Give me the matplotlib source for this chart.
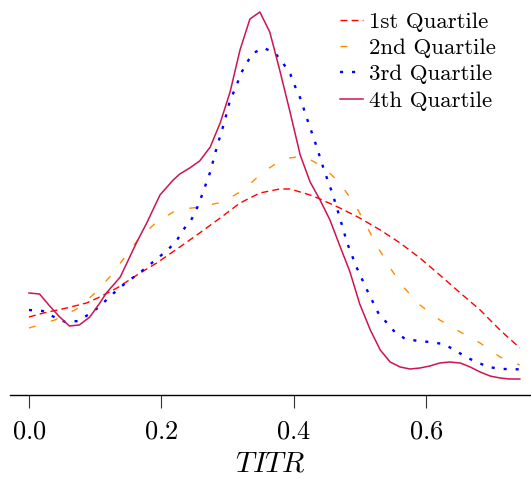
import matplotlib
matplotlib.use("Agg")
import matplotlib.pyplot as plt

plt.rcParams["font.family"] = "cmr10"
plt.rcParams["mathtext.fontset"] = "cm"
plt.rcParams["axes.formatter.use_mathtext"] = True

# density curves of TITR per quartile
q1_x = [0.000, 0.022, 0.057, 0.087, 0.107, 0.133, 0.168, 0.193, 0.228, 0.258,
        0.289, 0.319, 0.349, 0.379, 0.395, 0.425, 0.440, 0.470, 0.500, 0.531,
        0.561, 0.591, 0.621, 0.652, 0.682, 0.712, 0.742]
q1_y = [0.78, 0.82, 0.87, 0.92, 0.98, 1.07, 1.22, 1.32, 1.48, 1.62,
        1.77, 1.92, 2.02, 2.06, 2.06, 2.00, 1.96, 1.87, 1.77, 1.65,
        1.52, 1.37, 1.20, 1.02, 0.85, 0.65, 0.47]

q2_x = [0.000, 0.039, 0.072, 0.100, 0.122, 0.145, 0.168, 0.193, 0.223, 0.258,
        0.293, 0.324, 0.354, 0.384, 0.415, 0.445, 0.470, 0.495, 0.511, 0.528,
        0.546, 0.566, 0.591, 0.621, 0.652, 0.682, 0.712, 0.742]
q2_y = [0.67, 0.75, 0.86, 1.02, 1.18, 1.38, 1.58, 1.73, 1.85, 1.88,
        1.93, 2.05, 2.23, 2.36, 2.39, 2.28, 2.12, 1.88, 1.68, 1.47,
        1.27, 1.08, 0.90, 0.75, 0.63, 0.52, 0.38, 0.30]

q3_x = [0.000, 0.021, 0.038, 0.055, 0.075, 0.091, 0.106, 0.120, 0.135, 0.150,
        0.165, 0.180, 0.195, 0.211, 0.223, 0.233, 0.246, 0.254, 0.261, 0.268,
        0.274, 0.284, 0.295, 0.304, 0.313, 0.320, 0.329, 0.339, 0.355, 0.372,
        0.384, 0.395, 0.402, 0.410, 0.422, 0.435, 0.446, 0.459, 0.470, 0.481,
        0.495, 0.511, 0.528, 0.553, 0.569, 0.589, 0.606, 0.626, 0.644, 0.660,
        0.677, 0.694, 0.715, 0.732, 0.742]
q3_y = [0.85, 0.84, 0.78, 0.73, 0.74, 0.81, 0.88, 0.97, 1.06, 1.14,
        1.21, 1.29, 1.37, 1.46, 1.54, 1.65, 1.76, 1.87, 1.99, 2.12,
        2.23, 2.48, 2.72, 2.95, 3.08, 3.21, 3.32, 3.42, 3.47, 3.42,
        3.32, 3.21, 3.09, 2.97, 2.73, 2.48, 2.25, 2.01, 1.77, 1.52,
        1.28, 1.05, 0.82, 0.63, 0.56, 0.54, 0.53, 0.51, 0.45, 0.38,
        0.33, 0.28, 0.26, 0.26, 0.255]

q4_x = [0.000, 0.016, 0.030, 0.045, 0.061, 0.076, 0.092, 0.106, 0.117, 0.138,
        0.163, 0.178, 0.198, 0.218, 0.228, 0.243, 0.258, 0.274, 0.289, 0.304,
        0.319, 0.334, 0.349, 0.364, 0.379, 0.395, 0.410, 0.425, 0.440, 0.455,
        0.470, 0.485, 0.500, 0.516, 0.531, 0.546, 0.561, 0.576, 0.591, 0.606,
        0.621, 0.636, 0.652, 0.667, 0.682, 0.697, 0.712, 0.727, 0.742]
q4_y = [1.02, 1.01, 0.90, 0.79, 0.69, 0.70, 0.78, 0.91, 1.02, 1.18,
        1.53, 1.72, 2.00, 2.15, 2.21, 2.27, 2.34, 2.48, 2.72, 3.03,
        3.45, 3.76, 3.83, 3.63, 3.25, 2.82, 2.40, 2.13, 1.95, 1.75,
        1.49, 1.235, 0.91, 0.65, 0.45, 0.33, 0.28, 0.26, 0.27, 0.29,
        0.32, 0.33, 0.32, 0.28, 0.23, 0.19, 0.17, 0.16, 0.16]

labels = ["1st Quartile", "2nd Quartile", "3rd Quartile", "4th Quartile"]
ticks = [0.0, 0.2, 0.4, 0.6]

fig = plt.figure(figsize=(5.31, 4.79), dpi=100)
ax = fig.add_axes([10 / 531, 84 / 479, 521 / 531, 395 / 479])

ax.plot(q1_x, q1_y, color="#ff0000", lw=1.0, linestyle=(0, (5, 3)), label=labels[0])
ax.plot(q2_x, q2_y, color="#ff8c00", lw=1.0, linestyle=(0, (5, 11.5)), label=labels[1])
ax.plot(q3_x, q3_y, color="#0000ff", lw=1.7, linestyle=(0, (1.3, 3.8)), label=labels[2])
ax.plot(q4_x, q4_y, color="#cc1452", lw=1.1, label=labels[3])

ax.set_xlim(-0.0287, 0.7589)
ax.set_ylim(0, 3.95)
ax.set_xticks(ticks)
ax.set_yticks([])
for s in ["left", "right", "top"]:
    ax.spines[s].set_visible(False)
ax.spines["bottom"].set_linewidth(1.0)
ax.tick_params(axis="x", length=9, width=0.8, pad=9, labelsize=19, color="#333333")
ax.set_xlabel(r"$TITR$", fontsize=21, labelpad=5)

ax.legend(loc="upper left", bbox_to_anchor=(340 / 531, 1 - 12 / 479),
          bbox_transform=fig.transFigure, frameon=False, fontsize=16.5,
          handlelength=1.0, handletextpad=0.25, labelspacing=0.27, borderpad=0,
          borderaxespad=0)

fig.savefig("out.png", dpi=100)
